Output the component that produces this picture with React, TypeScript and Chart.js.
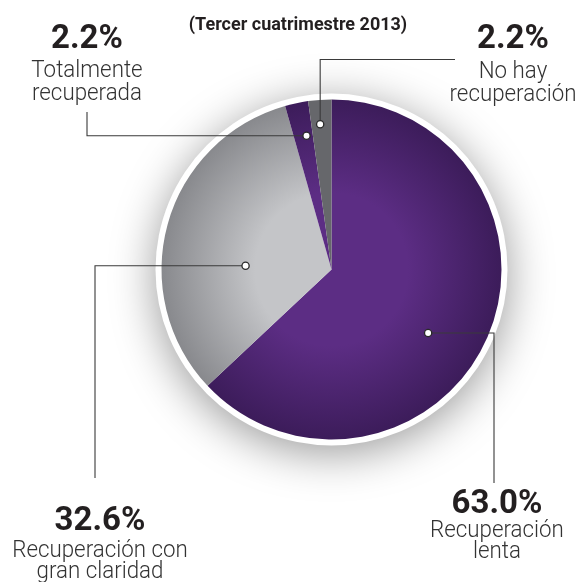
import React, { useEffect, useRef } from "react";
import { Chart, registerables } from "chart.js";

Chart.register(...registerables);

const title = "(Tercer cuatrimestre 2013)";
const categories = [
  "Recuperación lenta",
  "Recuperación con gran claridad",
  "Totalmente recuperada",
  "No hay recuperación",
];
const values = [63.0, 32.6, 2.2, 2.2];
const percentLabels = ["63.0%", "32.6%", "2.2%", "2.2%"];
const labelLines = [
  ["Recuperación", "lenta"],
  ["Recuperación con", "gran claridad"],
  ["Totalmente", "recuperada"],
  ["No hay", "recuperación"],
];

// layout (not data): text blocks and leader-line routing
const textLayout = [
  { cx: 497, pct: 513, lines: [537, 558] },
  { cx: 100, pct: 530, lines: [557, 578] },
  { cx: 87, pct: 48, lines: [77, 100] },
  { cx: 513, pct: 48, lines: [78, 101] },
];
const leaderLayout = [
  { dAng: 9.9, rf: 0.68, route: "hv", x: 494, y: 483 },
  { dAng: -13, rf: 0.506, route: "hv", x: 95, y: 478 },
  { dAng: 1.3, rf: 0.8, route: "hv", x: 87, y: 112 },
  { dAng: -0.5, rf: 0.857, route: "vh", x: 455, y: 59.5 },
];

function radial(chart: any, inner: string, outer: string, fallback: string) {
  const a = chart.chartArea;
  if (!a) return fallback;
  const x = (a.left + a.right) / 2;
  const y = (a.top + a.bottom) / 2;
  const r = Math.min(a.right - a.left, a.bottom - a.top) / 2;
  const g = chart.ctx.createRadialGradient(x, y, 0, x, y, r);
  g.addColorStop(0, inner);
  g.addColorStop(0.45, inner);
  g.addColorStop(1, outer);
  return g;
}

const ringPlugin = {
  id: "ring",
  beforeDatasetsDraw(chart: any) {
    const arc = chart.getDatasetMeta(0).data[0];
    if (!arc) return;
    const { x, y, outerRadius } = arc.getProps(["x", "y", "outerRadius"], true);
    const ctx = chart.ctx;
    ctx.save();
    ctx.beginPath();
    ctx.arc(x, y, outerRadius + 6, 0, Math.PI * 2);
    ctx.fillStyle = "#ffffff";
    ctx.shadowColor = "rgba(0,0,0,0.4)";
    ctx.shadowBlur = 45;
    ctx.shadowOffsetY = 8;
    ctx.fill();
    ctx.restore();
  },
};

function drawText(ctx: any, text: string, cx: number, y: number, font: string, color: string, sx: number) {
  ctx.save();
  ctx.translate(cx, y);
  ctx.scale(sx, 1);
  ctx.font = font;
  ctx.fillStyle = color;
  ctx.textAlign = "center";
  ctx.textBaseline = "alphabetic";
  ctx.fillText(text, 0, 0);
  ctx.restore();
}

const labelPlugin = {
  id: "labels",
  afterDraw(chart: any) {
    const ctx = chart.ctx;
    const meta = chart.getDatasetMeta(0);
    drawText(ctx, title, 298, 30, "bold 18px Roboto, 'Noto Sans', sans-serif", "#231f20", 1.0);
    meta.data.forEach((arc: any, i: number) => {
      const p = arc.getProps(["x", "y", "startAngle", "endAngle", "outerRadius"], true);
      const L = leaderLayout[i];
      const ang = (p.startAngle + p.endAngle) / 2 + (L.dAng * Math.PI) / 180;
      const dx = p.x + Math.cos(ang) * p.outerRadius * L.rf;
      const dy = p.y + Math.sin(ang) * p.outerRadius * L.rf;
      ctx.save();
      ctx.strokeStyle = "#3a3a3a";
      ctx.lineWidth = 1.1;
      ctx.beginPath();
      ctx.moveTo(dx, dy);
      if (L.route === "hv") {
        ctx.lineTo(L.x, dy);
        ctx.lineTo(L.x, L.y);
      } else {
        ctx.lineTo(dx, L.y);
        ctx.lineTo(L.x, L.y);
      }
      ctx.stroke();
      ctx.beginPath();
      ctx.arc(dx, dy, 3.6, 0, Math.PI * 2);
      ctx.fillStyle = "#ffffff";
      ctx.fill();
      ctx.lineWidth = 1.3;
      ctx.strokeStyle = "#2a2a2a";
      ctx.stroke();
      ctx.restore();

      const T = textLayout[i];
      drawText(ctx, percentLabels[i], T.cx, T.pct, "bold 33px Roboto, 'Noto Sans', sans-serif", "#231f20", 1.0);
      labelLines[i].forEach((line, j) => {
        drawText(ctx, line, T.cx, T.lines[j], "300 24px Roboto, 'Noto Sans', sans-serif", "#333333", 0.93);
      });
    });
  },
};

export default function App() {
  const ref = useRef<HTMLCanvasElement | null>(null);
  useEffect(() => {
    document.body.style.margin = "0";
    const canvas = ref.current;
    if (!canvas) return;
    const chart = new Chart(canvas, {
      type: "pie",
      data: {
        labels: categories,
        datasets: [
          {
            data: values,
            borderWidth: 0,
            hoverOffset: 0,
            backgroundColor: (c: any) => {
              const ch = c.chart;
              const i = c.dataIndex;
              if (i === 0 || i === 2) return radial(ch, "#5c2d84", "#3c1c5a", "#4f2676");
              if (i === 1) return radial(ch, "#c4c5c8", "#88898d", "#b0b1b4");
              return "#66676b";
            },
          },
        ],
      },
      options: {
        responsive: false,
        animation: false,
        layout: { padding: { left: 161.5, right: 80.5, top: 99.5, bottom: 142.5 } },
        plugins: {
          legend: { display: false },
          tooltip: { enabled: false },
          title: { display: false },
        },
      },
      plugins: [ringPlugin, labelPlugin],
    });
    return () => chart.destroy();
  }, []);
  return (
    <div style={{ width: 582, height: 582, background: "#ffffff" }}>
      <canvas ref={ref} width={582} height={582} style={{ display: "block" }} />
    </div>
  );
}
